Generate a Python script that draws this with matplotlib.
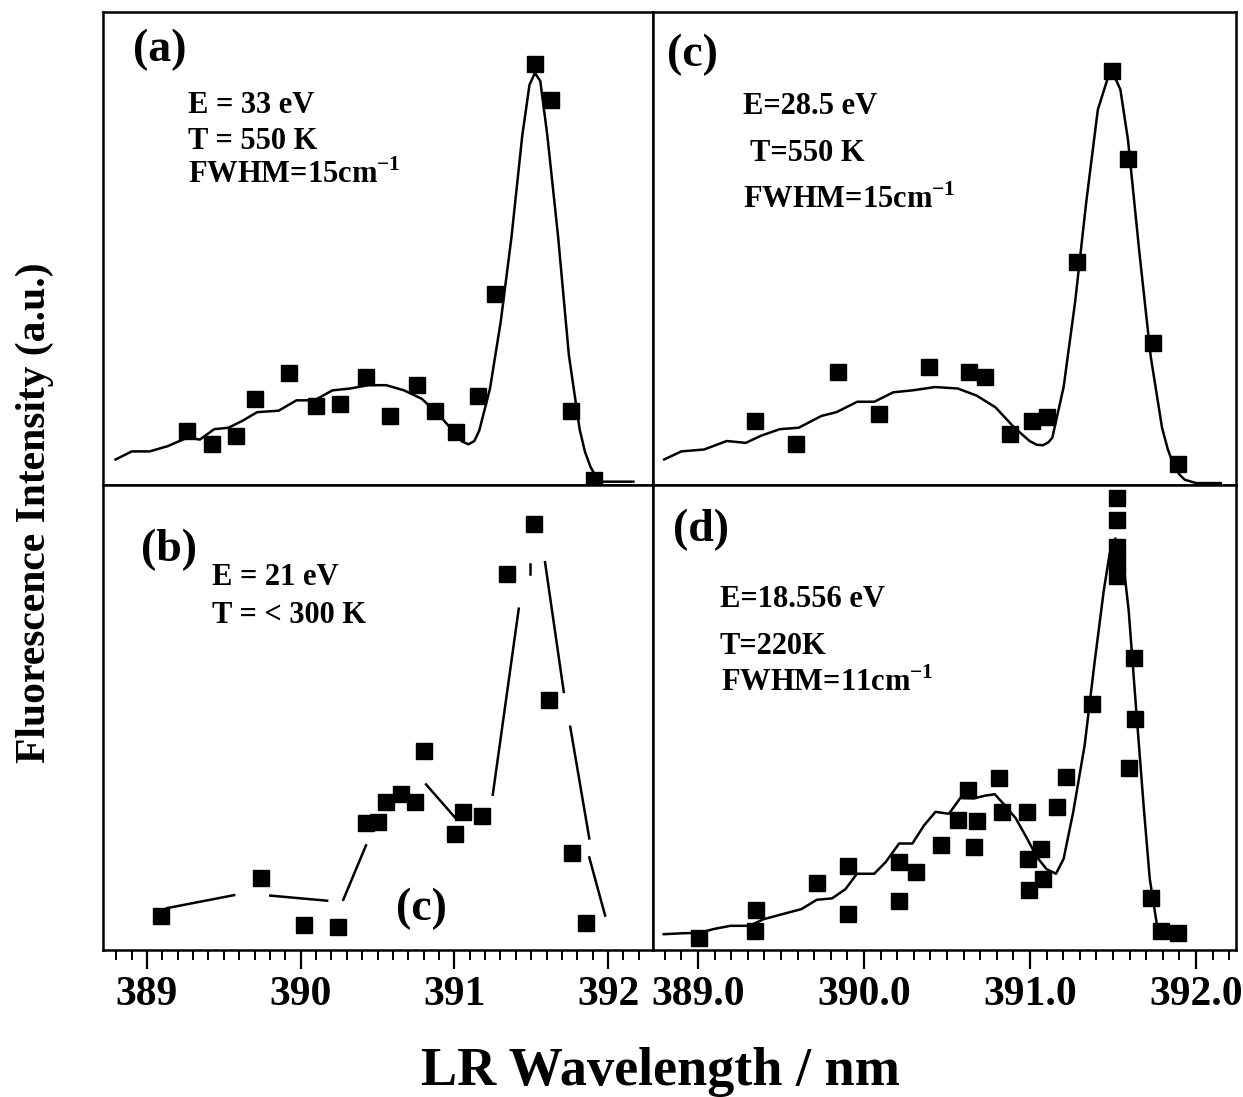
import numpy as np
import matplotlib
matplotlib.use("Agg")
import matplotlib.pyplot as plt
from matplotlib.ticker import MultipleLocator, FormatStrFormatter

plt.rcParams['font.family'] = ['Liberation Serif', 'DejaVu Serif']
plt.rcParams['font.weight'] = 'bold'
plt.rcParams['mathtext.fontset'] = 'custom'
plt.rcParams['mathtext.rm'] = 'Liberation Serif:bold'
plt.rcParams['mathtext.bf'] = 'Liberation Serif:bold'

# (a) E = 33 eV
a_x = [389.262, 389.425, 389.577, 389.705, 389.926, 390.101, 390.253, 390.428, 390.579,
       390.754, 390.871, 391.011, 391.151, 391.267, 391.524, 391.629, 391.757, 391.908]
a_y = [0.114, 0.086, 0.104, 0.182, 0.236, 0.168, 0.171, 0.229, 0.145,
       0.211, 0.157, 0.111, 0.189, 0.404, 0.889, 0.814, 0.157, 0.011]
a_fit_x = [388.796, 388.901, 389.017, 389.134, 389.262, 389.344, 389.437, 389.530, 389.623,
           389.717, 389.856, 389.973, 390.090, 390.206, 390.323, 390.439, 390.556, 390.673,
           390.789, 390.906, 391.000, 391.050, 391.092, 391.130, 391.162, 391.232, 391.302,
           391.372, 391.442, 391.489, 391.524, 391.559, 391.605, 391.675, 391.745, 391.815,
           391.850, 391.885, 391.920, 391.955, 392.165]
a_fit_y = [0.054, 0.071, 0.071, 0.082, 0.100, 0.096, 0.118, 0.121, 0.136,
           0.154, 0.157, 0.179, 0.179, 0.200, 0.204, 0.211, 0.211, 0.200,
           0.182, 0.146, 0.111, 0.092, 0.086, 0.093, 0.115, 0.204, 0.346,
           0.525, 0.739, 0.846, 0.871, 0.854, 0.739, 0.525, 0.275, 0.118,
           0.070, 0.039, 0.018, 0.007, 0.007]

# (b) E = 21 eV
b_x = [389.089, 389.745, 390.020, 390.242, 390.425, 390.505, 390.558, 390.652, 390.746,
       390.800, 391.004, 391.058, 391.180, 391.344, 391.520, 391.618, 391.766, 391.859]
b_y = [0.074, 0.155, 0.054, 0.049, 0.274, 0.276, 0.318, 0.336, 0.318,
       0.427, 0.249, 0.296, 0.289, 0.809, 0.917, 0.538, 0.209, 0.058]
b_seg_x0 = [389.129, 389.802, 390.277, 390.816, 391.250, 391.491, 391.590, 391.754, 391.878]
b_seg_x1 = [389.567, 390.172, 390.425, 391.004, 391.419, 391.491, 391.712, 391.878, 391.981]
b_seg_y0 = [0.090, 0.117, 0.108, 0.356, 0.334, 0.830, 0.834, 0.480, 0.199]
b_seg_y1 = [0.118, 0.106, 0.225, 0.285, 0.734, 0.809, 0.555, 0.240, 0.074]

# (c) E = 28.5 eV
c_x = [389.344, 389.590, 389.841, 390.089, 390.393, 390.632, 390.730, 390.879,
       391.009, 391.104, 391.282, 391.494, 391.590, 391.743, 391.893]
c_y = [0.136, 0.087, 0.239, 0.151, 0.250, 0.239, 0.229, 0.107,
       0.136, 0.143, 0.471, 0.875, 0.689, 0.300, 0.044]
c_fit_x = [388.796, 388.899, 389.036, 389.173, 389.287, 389.378, 389.492, 389.606, 389.743,
           389.834, 389.959, 390.062, 390.176, 390.290, 390.427, 390.564, 390.678, 390.792,
           390.906, 390.997, 391.040, 391.077, 391.110, 391.134, 391.202, 391.271, 391.339,
           391.408, 391.465, 391.503, 391.544, 391.590, 391.658, 391.727, 391.795, 391.830,
           391.864, 391.900, 391.932, 392.001, 392.149]
c_fit_y = [0.054, 0.071, 0.075, 0.093, 0.089, 0.104, 0.118, 0.121, 0.146,
           0.154, 0.176, 0.176, 0.196, 0.200, 0.207, 0.204, 0.189, 0.164,
           0.121, 0.093, 0.085, 0.084, 0.090, 0.100, 0.207, 0.386, 0.600,
           0.793, 0.857, 0.868, 0.836, 0.729, 0.493, 0.271, 0.121, 0.075,
           0.043, 0.022, 0.011, 0.004, 0.004]

# (d) E = 18.556 eV
d_x = [389.007, 389.341, 389.350, 389.715, 389.904, 389.904, 390.211, 390.211, 390.310,
       390.464, 390.564, 390.626, 390.660, 390.679, 390.810, 390.833, 390.983, 390.988,
       390.995, 391.064, 391.075, 391.163, 391.214, 391.371, 391.525, 391.525, 391.525,
       391.525, 391.525, 391.629, 391.634, 391.594, 391.728, 391.790, 391.889]
d_y = [0.025, 0.041, 0.086, 0.144, 0.180, 0.077, 0.106, 0.189, 0.167,
       0.225, 0.279, 0.344, 0.221, 0.277, 0.369, 0.297, 0.297, 0.196,
       0.128, 0.218, 0.153, 0.308, 0.373, 0.530, 0.971, 0.924, 0.867,
       0.835, 0.805, 0.629, 0.497, 0.391, 0.111, 0.041, 0.037]
d_fit_x = [388.793, 388.908, 389.012, 389.092, 389.196, 389.311, 389.392, 389.507, 389.623,
           389.715, 389.807, 389.888, 389.957, 390.061, 390.130, 390.211, 390.291, 390.361,
           390.430, 390.511, 390.580, 390.660, 390.730, 390.787, 390.856, 390.914, 390.983,
           391.041, 391.099, 391.156, 391.202, 391.260, 391.329, 391.387, 391.444, 391.479,
           391.514, 391.560, 391.594, 391.640, 391.687, 391.721, 391.767, 391.802]
d_fit_y = [0.034, 0.036, 0.037, 0.045, 0.052, 0.052, 0.066, 0.077, 0.088,
           0.108, 0.111, 0.131, 0.164, 0.164, 0.189, 0.229, 0.229, 0.268,
           0.297, 0.293, 0.327, 0.326, 0.332, 0.335, 0.308, 0.283, 0.239,
           0.200, 0.174, 0.164, 0.196, 0.297, 0.441, 0.614, 0.773, 0.852,
           0.885, 0.838, 0.730, 0.513, 0.297, 0.153, 0.048, 0.037]

left_ticks = [389, 390, 391, 392]
right_ticks = [389.0, 390.0, 391.0, 392.0]

fig = plt.figure(figsize=(12.43, 10.97), dpi=100)
ax_a = fig.add_axes([0.0829, 0.5579, 0.4425, 0.4312])
ax_b = fig.add_axes([0.0829, 0.1340, 0.4425, 0.4239])
ax_c = fig.add_axes([0.5253, 0.5579, 0.4690, 0.4312])
ax_d = fig.add_axes([0.5253, 0.1340, 0.4690, 0.4239])

lw = 1.8
ms = 12
for ax in (ax_a, ax_b, ax_c, ax_d):
    for s in ax.spines.values():
        s.set_linewidth(1.8)
    ax.set_ylim(0, 1)
    ax.set_yticks([])

for ax in (ax_a, ax_b):
    ax.set_xlim(388.714, 392.293)
for ax in (ax_c, ax_d):
    ax.set_xlim(388.728, 392.24)

for ax in (ax_a, ax_c):
    ax.set_xticks([])

ax_b.set_xticks(left_ticks)
ax_b.xaxis.set_major_formatter(FormatStrFormatter('%d'))
ax_d.set_xticks(right_ticks)
ax_d.xaxis.set_major_formatter(FormatStrFormatter('%.1f'))
for ax in (ax_b, ax_d):
    ax.xaxis.set_minor_locator(MultipleLocator(0.1))
    ax.tick_params(axis='x', which='major', direction='out', length=14, width=1.6,
                   labelsize=30, pad=5)
    ax.tick_params(axis='x', which='minor', direction='out', length=7, width=1.4)

# data
ax_a.plot(a_fit_x, a_fit_y, color='black', lw=lw)
ax_a.plot(a_x, a_y, 's', color='black', ms=ms)

for x0, x1, y0, y1 in zip(b_seg_x0, b_seg_x1, b_seg_y0, b_seg_y1):
    ax_b.plot([x0, x1], [y0, y1], color='black', lw=lw)
ax_b.plot(b_x, b_y, 's', color='black', ms=ms)

ax_c.plot(c_fit_x, c_fit_y, color='black', lw=lw)
ax_c.plot(c_x, c_y, 's', color='black', ms=ms)

ax_d.plot(d_fit_x, d_fit_y, color='black', lw=lw)
ax_d.plot(d_x, d_y, 's', color='black', ms=ms)

# labels
lab = dict(fontsize=33, fontweight='bold', va='center', ha='left')
ann = dict(fontsize=22, fontweight='bold', va='center', ha='left')

ax_a.text(0.055, 0.92, '(a)', transform=ax_a.transAxes, **lab)
ax_a.text(0.154, 0.803, 'E = 33 eV', transform=ax_a.transAxes, **ann)
ax_a.text(0.154, 0.727, 'T = 550 K', transform=ax_a.transAxes, **ann)
ax_a.text(0.154, 0.655, r'FWHM=15cm$^{-1}$', transform=ax_a.transAxes, **ann)

ax_b.text(0.069, 0.86, '(b)', transform=ax_b.transAxes, **lab)
ax_b.text(0.198, 0.80, 'E = 21 eV', transform=ax_b.transAxes, **ann)
ax_b.text(0.198, 0.72, 'T = < 300 K', transform=ax_b.transAxes, **ann)
ax_b.text(0.578, 0.089, '(c)', transform=ax_b.transAxes, fontsize=33,
          fontweight='bold', va='center', ha='center')

ax_c.text(0.024, 0.909, '(c)', transform=ax_c.transAxes, **lab)
ax_c.text(0.154, 0.80, 'E=28.5 eV', transform=ax_c.transAxes, **ann)
ax_c.text(0.167, 0.70, 'T=550 K', transform=ax_c.transAxes, **ann)
ax_c.text(0.154, 0.603, r'FWHM=15cm$^{-1}$', transform=ax_c.transAxes, **ann)

ax_d.text(0.034, 0.903, '(d)', transform=ax_d.transAxes, **lab)
ax_d.text(0.115, 0.753, 'E=18.556 eV', transform=ax_d.transAxes, **ann)
ax_d.text(0.115, 0.652, 'T=220K', transform=ax_d.transAxes, **ann)
ax_d.text(0.117, 0.574, r'FWHM=11cm$^{-1}$', transform=ax_d.transAxes, **ann)

fig.text(0.028, 0.533, 'Fluorescence Intensity (a.u.)', rotation=90, fontsize=30,
         fontweight='bold', va='center', ha='center')
fig.text(0.531, 0.011, 'LR Wavelength / nm', fontsize=39, fontweight='bold',
         va='baseline', ha='center')

fig.savefig('out.png', dpi=100)
